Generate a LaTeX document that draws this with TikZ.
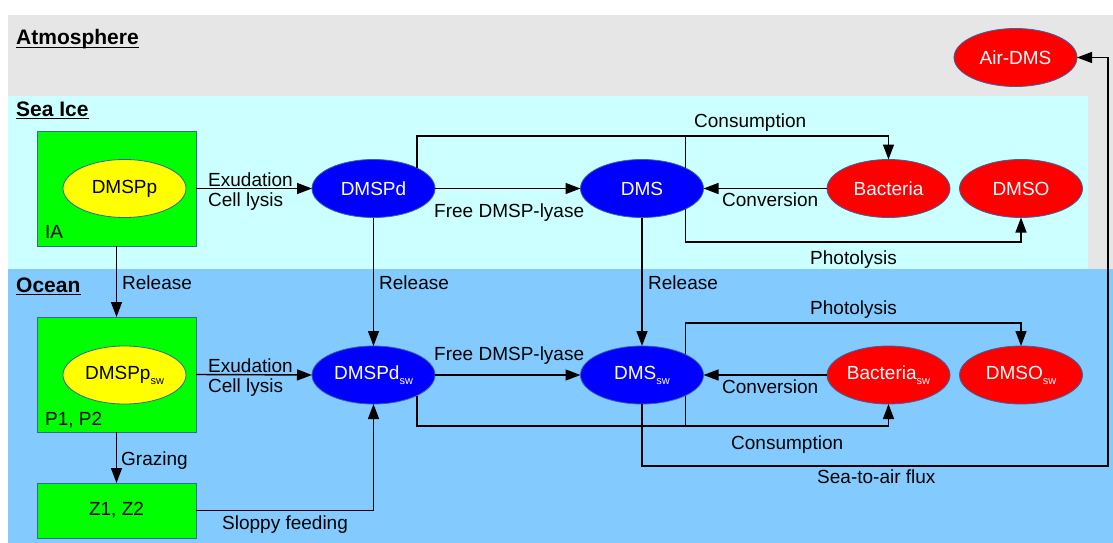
\documentclass[tikz,border=0pt]{standalone}
\usepackage{fontspec}
\setmainfont{Liberation Sans}
\usetikzlibrary{arrows.meta,shapes.geometric,calc}
\definecolor{atmo}{HTML}{E6E6E6}
\definecolor{seaice}{HTML}{CCFFFF}
\definecolor{ocean}{HTML}{83CAFF}
\definecolor{grn}{HTML}{00FF00}
\definecolor{ylw}{HTML}{FFFF00}
\definecolor{blu}{HTML}{0000FF}
\definecolor{rd}{HTML}{FF0000}
\definecolor{edge}{HTML}{3465A4}
\newcommand{\swsub}{\raisebox{-5pt}{\fontsize{11}{12}\selectfont sw}}
\begin{document}
\begin{tikzpicture}[x=1pt,y=-1pt,
  txt/.style={font=\fontsize{19}{22}\selectfont, inner sep=0pt, anchor=base west},
  head/.style={font=\fontsize{21}{24}\selectfont\bfseries, inner sep=0pt, anchor=base west},
  uline/.style={line width=1.5pt},
  pool/.style={ellipse, draw=edge, line width=0.8pt, minimum width=123pt, minimum height=58pt, inner sep=0pt, outer sep=0pt, font=\fontsize{19}{22}\selectfont},
  bluepool/.style={pool, fill=blu, text=white},
  redpool/.style={pool, fill=rd, text=white},
  ylwpool/.style={pool, fill=ylw},
  box/.style={rectangle, draw=edge, line width=0.8pt, fill=grn, minimum width=159pt, inner sep=0pt, outer sep=0pt, font=\fontsize{19}{22}\selectfont},
  arr/.style={line width=1.4pt, -{Triangle[length=15pt,width=11pt]}},
  ln/.style={line width=1.4pt}]
\useasboundingbox (0,0) rectangle (1113,543);
% backgrounds
\fill[atmo] (8,15) rectangle (1113,269);
\fill[seaice] (8,96) rectangle (1088,269);
\fill[ocean] (8,269) rectangle (1113,543);
% headings
\node[head] (hatm) at (16,45) {Atmosphere};
\node[head] (hsea) at (16,116) {Sea Ice};
\node[head] (hoc) at (16,292) {Ocean};
\draw[uline] ($(hatm.base west)+(0,2.5)$) -- ($(hatm.base east)+(0,2.5)$);
\draw[uline] ($(hsea.base west)+(0,2.5)$) -- ($(hsea.base east)+(0,2.5)$);
\draw[uline] ($(hoc.base west)+(0,2.5)$) -- ($(hoc.base east)+(0,2.5)$);
% sea ice nodes
\node[box, minimum height=115pt] (IA) at (116.5,188.5) {};
\node[ylwpool] (DMSPp) at (124.5,188.5) {DMSPp};
\node[txt] (IAlab) at (45,238) {IA};
\node[bluepool] (DMSPd) at (373.5,188.5) {DMSPd};
\node[bluepool] (DMS) at (642,188.5) {DMS};
\node[redpool] (Bac) at (888.5,188.5) {Bacteria};
\node[redpool] (DMSO) at (1021,188.5) {DMSO};
\node[redpool] (Air) at (1015.5,57.5) {Air-DMS};
% ocean nodes
\node[box, minimum height=115pt] (P) at (116.5,374.5) {};
\node[ylwpool] (DMSPpsw) at (124.5,375) {DMSPp\swsub};
\node[txt] (Plab) at (45,425) {P1, P2};
\node[box, minimum height=55pt] (Z) at (116.5,510.5) {Z1, Z2};
\node[bluepool] (DMSPdsw) at (373.5,375) {DMSPd\swsub};
\node[bluepool] (DMSsw) at (642,375) {DMS\swsub};
\node[redpool] (Bacsw) at (888.5,375) {Bacteria\swsub};
\node[redpool] (DMSOsw) at (1021,375) {DMSO\swsub};
% routing coordinates
\coordinate (ytop) at (0,136);
\coordinate (ybot) at (0,242);
\coordinate (yotop) at (0,323);
\coordinate (yobot) at (0,426);
\coordinate (flux) at (1108,466);
% connectors sea ice
\draw[arr] (IA.south) -- (P.north);
\draw[arr] (P.south) -- (Z.north);
\draw[arr] (IA.east) -- (DMSPd.west);
\draw[arr] (DMSPd.east) -- (DMS.west);
\draw[arr] (Bac.west) -- (DMS.east);
\draw[arr] (DMSPd.north east) |- (ytop -| Bac.north) -- (Bac.north);
\draw[ln] (DMS.north east) -- (DMS.north east |- ytop);
\draw[arr] (DMS.south east) |- (ybot -| DMSO.south) -- (DMSO.south);
\draw[arr] (DMSPd.south) -- (DMSPdsw.north);
\draw[arr] (DMS.south) -- (DMSsw.north);
% connectors ocean
\draw[arr] (P.east) -- (DMSPdsw.west);
\draw[arr] (DMSPdsw.east) -- (DMSsw.west);
\draw[arr] (Bacsw.west) -- (DMSsw.east);
\draw[arr] (DMSPdsw.south east) |- (yobot -| Bacsw.south) -- (Bacsw.south);
\draw[ln] (DMSsw.south east) -- (DMSsw.south east |- yobot);
\draw[arr] (DMSsw.north east) |- (yotop -| DMSOsw.north) -- (DMSOsw.north);
\draw[arr] (DMSsw.south) |- (flux) |- (Air.east);
\draw[arr] (Z.east) -| (DMSPdsw.south);
% labels
\node[txt] (l1) at (208,186) {Exudation};
\node[txt] (l2) at (208,206) {Cell lysis};
\node[txt] (l3) at (122,289) {Release};
\node[txt] (l4) at (121,465) {Grazing};
\node[txt] (l5) at (208,372) {Exudation};
\node[txt] (l6) at (208,392) {Cell lysis};
\node[txt] (l7) at (222,529) {Sloppy feeding};
\node[txt] (l8) at (434,217) {Free DMSP-lyase};
\node[txt] (l9) at (379,289) {Release};
\node[txt] (l10) at (648,289) {Release};
\node[txt] (l11) at (694,127) {Consumption};
\node[txt] (l12) at (722,206) {Conversion};
\node[txt] (l13) at (810,264) {Photolysis};
\node[txt] (l14) at (434,360) {Free DMSP-lyase};
\node[txt] (l15) at (810,314) {Photolysis};
\node[txt] (l16) at (722,393) {Conversion};
\node[txt] (l17) at (731,449) {Consumption};
\node[txt] (l18) at (817,483) {Sea-to-air flux};
\end{tikzpicture}
\end{document}
